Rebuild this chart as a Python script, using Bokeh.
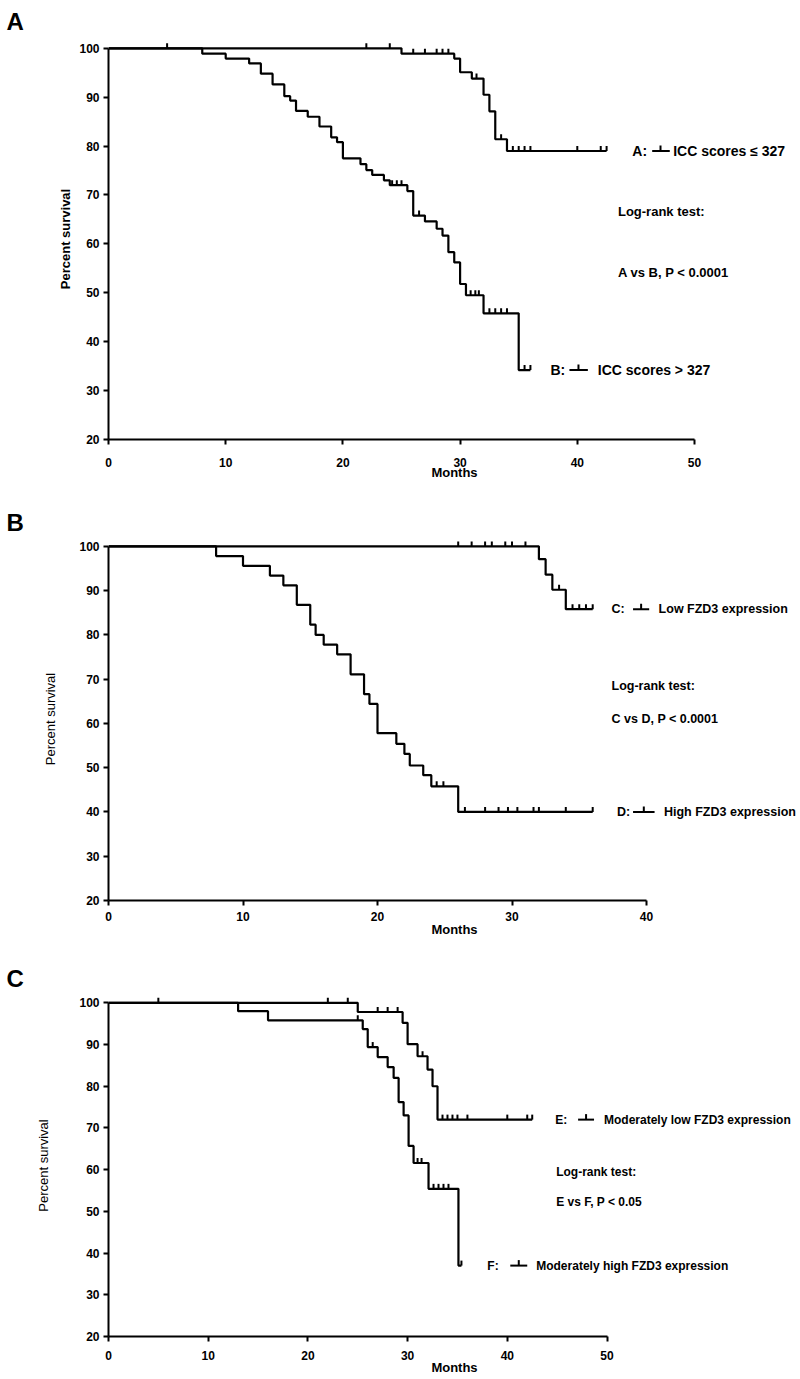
import numpy as np
from bokeh.plotting import figure
from bokeh.models import Range1d, FixedTicker
from bokeh.layouts import column
from bokeh.embed import file_html
from bokeh.resources import INLINE
from bokeh.core.properties import value

FONT = "Liberation Sans"

# ---------------- data ----------------
y_ticks = [20, 30, 40, 50, 60, 70, 80, 90, 100]
x_ticks_A = [0, 10, 20, 30, 40, 50]
x_ticks_B = [0, 10, 20, 30, 40]
x_ticks_C = [0, 10, 20, 30, 40, 50]

# Panel A : ICC scores
A_time = [25, 29.5, 30, 31, 32, 32.5, 33, 34]
A_surv = [98.9, 97.9, 95.1, 93.8, 90.5, 87.1, 81.4, 79.0]
A_cens = [5, 22, 24, 26, 27, 28, 28.5, 29, 31.4, 33.5, 34.5, 35, 35.5, 36, 40, 42, 42.5]
A_end = 42.5

B_time = [8, 10, 12, 13, 14, 15, 15.5, 16, 17, 18, 19, 19.5, 20, 21.5, 22, 22.5,
          23.5, 24, 25.5, 26, 27, 28, 28.5, 29, 29.5, 30, 30.5, 32, 35]
B_surv = [98.9, 97.9, 96.9, 94.8, 92.6, 90.2, 89.3, 87.2, 86.0, 84.0, 81.8, 80.8, 77.5,
          76.3, 75.1, 74.1, 73.0, 72.0, 70.8, 65.8, 64.6, 63.1, 61.7, 58.3, 56.2, 51.8,
          49.5, 45.8, 34.2]
B_cens = [24.2, 24.6, 25.0, 26.5, 30.9, 31.3, 31.6, 32.5, 33.0, 33.5, 34.0, 35.5, 36.0]
B_end = 36.0

# Panel B : FZD3 low / high
C_time = [32, 32.5, 33, 34]
C_surv = [97.1, 93.6, 90.2, 85.8]
C_cens = [26, 27, 28, 28.5, 29.5, 30, 31, 33.5, 34.5, 35, 35.5, 36]
C_end = 36

D_time = [8, 10, 12, 13, 14, 15, 15.4, 16, 17, 18, 19, 19.4, 20, 21.4, 22, 22.4, 23.4, 24, 26]
D_surv = [97.8, 95.6, 93.4, 91.2, 86.8, 82.3, 80.0, 77.8, 75.6, 71.1, 66.6, 64.4, 57.8,
          55.4, 53.1, 50.5, 48.3, 45.8, 40.0]
D_cens = [24.4, 24.9, 26.5, 28, 29, 29.7, 30.4, 31.6, 32, 34, 36]
D_end = 36

# Panel C : FZD3 moderately low / moderately high
E_time = [25, 29.5, 30, 31, 32, 32.5, 33]
E_surv = [97.8, 95.2, 90.1, 87.2, 84.0, 80.0, 72.0]
E_cens = [5, 22, 24, 27, 28, 29, 31.5, 33.5, 34, 34.5, 35, 36, 40, 42, 42.5]
E_end = 42.5

F_time = [13, 16, 25.5, 26, 27, 28, 28.6, 29.1, 29.6, 30.1, 30.6, 32.1, 35.1]
F_surv = [98.0, 95.8, 93.7, 89.4, 87.0, 84.6, 82.0, 76.2, 73.0, 65.7, 61.6, 55.4, 37.0]
F_cens = [25, 26.5, 31.0, 31.4, 32.6, 33.1, 33.6, 34.1, 35.4]
F_end = 35.4

A_keys = ["A:", "B:"]
A_names = ["ICC scores \u2264 327", "ICC scores > 327"]
A_stats = ["Log-rank test:", "A vs B, P < 0.0001"]
B_keys = ["C:", "D:"]
B_names = ["Low FZD3 expression", "High FZD3 expression"]
B_stats = ["Log-rank test:", "C vs D, P < 0.0001"]
C_keys = ["E:", "F:"]
C_names = ["Moderately low FZD3 expression", "Moderately high FZD3 expression"]
C_stats = ["Log-rank test:", "E vs F, P < 0.05"]

x_title = "Months"
y_title = "Percent survival"

Y_TOP = 102.0
LEFT = 108
WIDTH = 800


def step_xy(times, surv, end):
    xs = [0.0] + list(times) + [end]
    ys = [100.0] + list(surv) + [surv[-1]]
    return xs, ys


def level_at(t, times, surv):
    i = int(np.searchsorted(np.asarray(times, dtype=float), t, side="right"))
    return 100.0 if i == 0 else surv[i - 1]


def make_panel(letter, height, top, bottom, px_per_month, axis_max, xticks, curves,
               keys, names, stats, lay):
    x_end = (WIDTH - LEFT) / px_per_month
    p = figure(width=WIDTH, height=height, x_range=Range1d(0, x_end),
               y_range=Range1d(20, Y_TOP), output_backend="svg",
               toolbar_location=None, tools="", min_border_left=LEFT,
               min_border_right=0, min_border_top=top, min_border_bottom=bottom,
               title=letter)
    p.outline_line_color = None
    p.grid.visible = False
    p.background_fill_color = "white"
    p.border_fill_color = "white"
    p.title.text_font = FONT
    p.title.text_font_size = "24px"
    p.title.text_font_style = "bold"
    p.title.align = "left"
    p.title.offset = -102
    p.title.standoff = lay["title_standoff"]
    p.title.text_color = "black"

    frame_h = height - top - bottom
    ppu = frame_h / (Y_TOP - 20.0)
    tick_h = 5.0 / ppu

    for (times, surv, cens, end) in curves:
        xs, ys = step_xy(times, surv, end)
        p.step(xs, ys, mode="after", line_width=2.2, line_color="black")
        lv = [level_at(c, times, surv) for c in cens]
        p.segment(x0=cens, y0=lv, x1=cens, y1=[v + tick_h for v in lv],
                  line_width=2, line_color="black")

    # legends: placed at the level where each curve ends
    for i, (times, surv, cens, end) in enumerate(curves):
        yv = surv[-1]
        kx, s0, s1, sm, tx = lay["leg"][i]
        p.text(x=[kx], y=[yv], text=[keys[i]], text_font=value(FONT),
               text_font_size=lay["leg_size"], text_font_style="bold",
               text_baseline="middle", text_align="left", text_color="black")
        p.segment(x0=[s0], y0=[yv], x1=[s1], y1=[yv], line_width=2, line_color="black")
        p.segment(x0=[sm], y0=[yv], x1=[sm], y1=[yv + tick_h * 1.1],
                  line_width=2, line_color="black")
        p.text(x=[tx], y=[yv], text=[names[i]], text_font=value(FONT),
               text_font_size=lay["leg_size"], text_font_style="bold",
               text_baseline="middle", text_align="left", text_color="black")

    sx, sy0, sy1 = lay["stats"]
    p.text(x=[sx, sx], y=[sy0, sy1], text=stats, text_font=value(FONT),
           text_font_size=lay["stat_size"], text_font_style="bold",
           text_baseline="middle", text_align="left", text_color="black")

    for ax in (p.xaxis[0], p.yaxis[0]):
        ax.axis_line_width = 2
        ax.axis_line_color = "black"
        ax.major_tick_line_width = 2
        ax.major_tick_line_color = "black"
        ax.major_tick_out = 5
        ax.major_tick_in = 0
        ax.minor_tick_in = 0
        ax.minor_tick_out = 0
        ax.major_label_text_font = FONT
        ax.major_label_text_font_size = "12px"
        ax.major_label_text_font_style = "bold"
        ax.major_label_text_color = "black"
        ax.axis_label_text_font = FONT
        ax.axis_label_text_color = "black"

    xa = p.xaxis[0]
    xa.bounds = (0, axis_max)
    xa.ticker = FixedTicker(ticks=xticks)
    xa.axis_label = x_title
    xa.axis_label_text_font_size = "13px"
    xa.axis_label_text_font_style = "bold"
    xa.major_label_standoff = lay["xl_standoff"]
    xa.axis_label_standoff = lay["xt_standoff"]

    ya = p.yaxis[0]
    ya.bounds = (20, 100)
    ya.ticker = FixedTicker(ticks=y_ticks)
    ya.axis_label = y_title
    ya.axis_label_text_font_size = "13px"
    ya.axis_label_text_font_style = lay["yt_style"]
    ya.major_label_standoff = 4
    ya.axis_label_standoff = lay["yt_standoff"]
    return p


layA = dict(leg=[(44.69, 46.39, 47.89, 47.1, 48.18), (37.71, 39.33, 40.90, 40.1, 41.75)],
            leg_size="14px", stats=(43.47, 66.6, 54.2), stat_size="13px",
            xl_standoff=13, xt_standoff=-5, yt_standoff=3, yt_style="bold",
            title_standoff=8)
layB = dict(leg=[(37.4, 39.0, 40.2, 39.6, 40.9), (37.8, 39.0, 40.6, 39.8, 41.3)],
            leg_size="12.5px", stats=(37.4, 68.5, 60.9), stat_size="12.5px",
            xl_standoff=6, xt_standoff=-2, yt_standoff=18, yt_style="normal",
            title_standoff=3)
layC = dict(leg=[(44.8, 47.1, 48.7, 47.9, 49.7), (38.0, 40.3, 42.0, 41.15, 42.9)],
            leg_size="12px", stats=(44.9, 59.4, 52.2), stat_size="12px",
            xl_standoff=9, xt_standoff=-3, yt_standoff=25, yt_style="normal",
            title_standoff=5)

pA = make_panel("A", 505, 38, 66, 11.72, 50, x_ticks_A,
                [(A_time, A_surv, A_cens, A_end), (B_time, B_surv, B_cens, B_end)],
                A_keys, A_names, A_stats, layA)
pB = make_panel("B", 455, 29, 60, 13.45, 40, x_ticks_B,
                [(C_time, C_surv, C_cens, C_end), (D_time, D_surv, D_cens, D_end)],
                B_keys, B_names, B_stats, layB)
pC = make_panel("C", 419, 34, 43, 9.97, 50, x_ticks_C,
                [(E_time, E_surv, E_cens, E_end), (F_time, F_surv, F_cens, F_end)],
                C_keys, C_names, C_stats, layC)

layout = column(pA, pB, pC, spacing=0)
open("out.html", "w").write(file_html(layout, INLINE))
